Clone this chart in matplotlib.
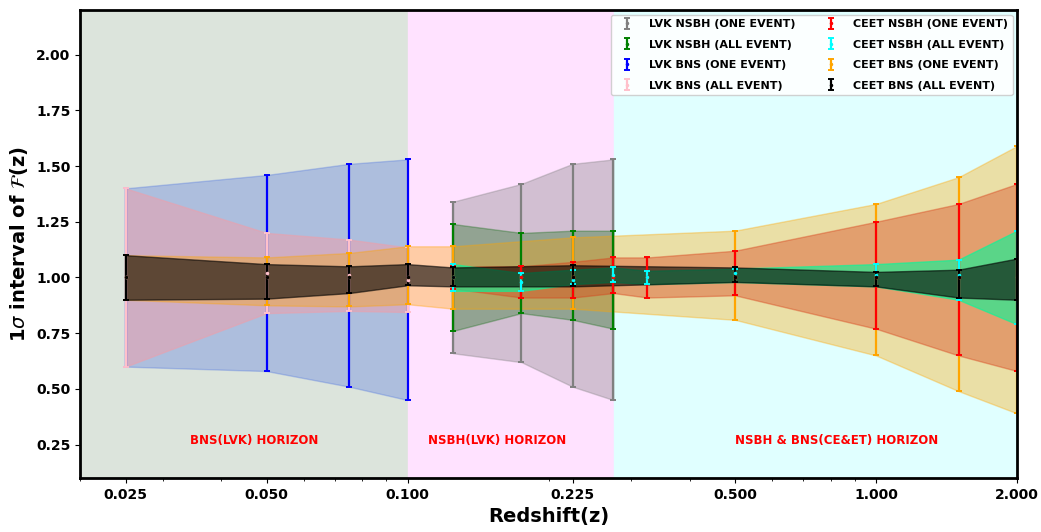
import numpy as np
import matplotlib
matplotlib.use("Agg")
from matplotlib import pyplot as plt
from matplotlib.ticker import FixedLocator, FormatStrFormatter, NullFormatter

# LVK BNS
z_lvk_bns = [0.025, 0.05, 0.075, 0.1]
lvk_bns_one_lo = [0.60, 0.58, 0.51, 0.45]
lvk_bns_one_hi = [1.40, 1.46, 1.51, 1.53]
lvk_bns_all_c = [1.00, 1.02, 1.01, 0.99]
lvk_bns_all_lo = [0.60, 0.84, 0.85, 0.845]
lvk_bns_all_hi = [1.40, 1.20, 1.17, 1.135]

# LVK NSBH
z_lvk_nsbh = [0.125, 0.175, 0.225, 0.275]
lvk_nsbh_one_lo = [0.66, 0.62, 0.51, 0.45]
lvk_nsbh_one_hi = [1.34, 1.42, 1.51, 1.53]
lvk_nsbh_all_lo = [0.76, 0.84, 0.81, 0.77]
lvk_nsbh_all_hi = [1.24, 1.20, 1.21, 1.21]

# CE+ET NSBH
z_ceet_nsbh = [0.125, 0.175, 0.225, 0.275, 0.325, 0.5, 1.0, 1.5, 2.0]
ceet_nsbh_one_lo = [0.95, 0.91, 0.91, 0.93, 0.91, 0.92, 0.77, 0.65, 0.58]
ceet_nsbh_one_hi = [1.05, 1.05, 1.07, 1.09, 1.09, 1.12, 1.25, 1.33, 1.42]
ceet_nsbh_all_c = [1.00, 0.98, 0.99, 1.01, 1.00, 1.02, 1.01, 1.01, 1.00]
ceet_nsbh_all_lo = [0.94, 0.94, 0.97, 0.98, 0.97, 0.98, 0.96, 0.90, 0.79]
ceet_nsbh_all_hi = [1.06, 1.02, 1.035, 1.045, 1.03, 1.04, 1.06, 1.08, 1.21]

# CE+ET BNS
z_ceet_bns = [0.025, 0.05, 0.075, 0.1, 0.125, 0.225, 0.5, 1.0, 1.5, 2.0]
ceet_bns_one_lo = [0.90, 0.875, 0.87, 0.88, 0.86, 0.86, 0.81, 0.65, 0.49, 0.39]
ceet_bns_one_hi = [1.10, 1.09, 1.11, 1.14, 1.14, 1.18, 1.21, 1.33, 1.45, 1.59]
ceet_bns_all_lo = [0.90, 0.905, 0.93, 0.965, 0.96, 0.96, 0.98, 0.96, 0.91, 0.90]
ceet_bns_all_hi = [1.10, 1.06, 1.05, 1.06, 1.045, 1.055, 1.045, 1.025, 1.035, 1.085]


def band(ax, z, lo, hi, c, fc, a, lab, mid=None):
    lo = np.array(lo); hi = np.array(hi)
    if mid is None:
        mid = (lo + hi) / 2
    mid = np.array(mid)
    ax.fill_between(z, lo, hi, color=fc, alpha=a, lw=1)
    ax.errorbar(z, mid, yerr=[mid - lo, hi - mid], fmt='o', ms=1.5, color=c,
                ecolor=c, elinewidth=1.6, capsize=2.5, capthick=1.4, label=lab)


fig = plt.figure(figsize=(10.41, 5.32), dpi=100)
ax = fig.add_axes([0.077, 0.1015, 0.9, 0.8795])
ax.set_xscale('log')

ax.axvspan(0.02, 0.1, color='#dce4dc', zorder=0)
ax.axvspan(0.1, 0.276, color='#ffe2ff', zorder=0)
ax.axvspan(0.276, 2.0, color='#e0ffff', zorder=0)

band(ax, z_lvk_bns, lvk_bns_one_lo, lvk_bns_one_hi, 'blue', 'royalblue', 0.3, 'LVK BNS (ONE EVENT)', mid=[1.0]*4)
band(ax, z_lvk_bns, lvk_bns_all_lo, lvk_bns_all_hi, 'pink', '#eca0ac', 0.55, 'LVK BNS (ALL EVENT)', mid=lvk_bns_all_c)
band(ax, z_lvk_nsbh, lvk_nsbh_one_lo, lvk_nsbh_one_hi, 'grey', 'grey', 0.35, 'LVK NSBH (ONE EVENT)', mid=[1.0]*4)
band(ax, z_lvk_nsbh, lvk_nsbh_all_lo, lvk_nsbh_all_hi, 'green', 'darkgreen', 0.3, 'LVK NSBH (ALL EVENT)', mid=[1.0]*4)
band(ax, z_ceet_bns, ceet_bns_one_lo, ceet_bns_one_hi, 'orange', 'orange', 0.35, 'CEET BNS (ONE EVENT)', mid=[1.0]*10)
band(ax, z_ceet_nsbh, ceet_nsbh_one_lo, ceet_nsbh_one_hi, 'red', '#d8401a', 0.4, 'CEET NSBH (ONE EVENT)', mid=[1.0]*9)
band(ax, z_ceet_nsbh, ceet_nsbh_all_lo, ceet_nsbh_all_hi, 'cyan', 'mediumspringgreen', 0.6, 'CEET NSBH (ALL EVENT)', mid=ceet_nsbh_all_c)
band(ax, z_ceet_bns, ceet_bns_all_lo, ceet_bns_all_hi, 'black', 'black', 0.58, 'CEET BNS (ALL EVENT)', mid=[1.0]*10)

ax.set_xlim(0.02, 2.0)
ax.set_ylim(0.1, 2.2)
xt = [0.025, 0.05, 0.1, 0.225, 0.5, 1.0, 2.0]
ax.xaxis.set_major_locator(FixedLocator(xt))
ax.xaxis.set_major_formatter(FormatStrFormatter('%.3f'))
ax.xaxis.set_minor_formatter(NullFormatter())
ax.set_yticks([0.25, 0.5, 0.75, 1.0, 1.25, 1.5, 1.75, 2.0])
ax.yaxis.set_major_formatter(FormatStrFormatter('%.2f'))
for lbl in ax.get_xticklabels() + ax.get_yticklabels():
    lbl.set_fontweight('bold')
    lbl.set_fontsize(10)
for s in ax.spines.values():
    s.set_linewidth(2)

ax.set_xlabel('Redshift(z)', fontsize=14, fontweight='bold')
ax.set_ylabel(r'1$\sigma$ interval of $\mathcal{F}$(z)', fontsize=14, fontweight='bold')

ax.text(0.047, 0.27, 'BNS(LVK) HORIZON', color='red', fontsize=8.5, fontweight='bold', ha='center', va='center')
ax.text(0.155, 0.27, 'NSBH(LVK) HORIZON', color='red', fontsize=8.5, fontweight='bold', ha='center', va='center')
ax.text(0.824, 0.27, 'NSBH & BNS(CE&ET) HORIZON', color='red', fontsize=8.5, fontweight='bold', ha='center', va='center')

h, l = ax.get_legend_handles_labels()
order = ['LVK NSBH (ONE EVENT)', 'LVK NSBH (ALL EVENT)', 'LVK BNS (ONE EVENT)', 'LVK BNS (ALL EVENT)',
         'CEET NSBH (ONE EVENT)', 'CEET NSBH (ALL EVENT)', 'CEET BNS (ONE EVENT)', 'CEET BNS (ALL EVENT)']
hd = dict(zip(l, h))
ax.legend([hd[k] for k in order], order, ncol=2, loc='upper right', prop={'weight': 'bold', 'size': 8},
          framealpha=0.9, borderaxespad=0.4, columnspacing=2.2, labelspacing=0.95, handletextpad=1.0)

plt.savefig('out.png', dpi=100)
